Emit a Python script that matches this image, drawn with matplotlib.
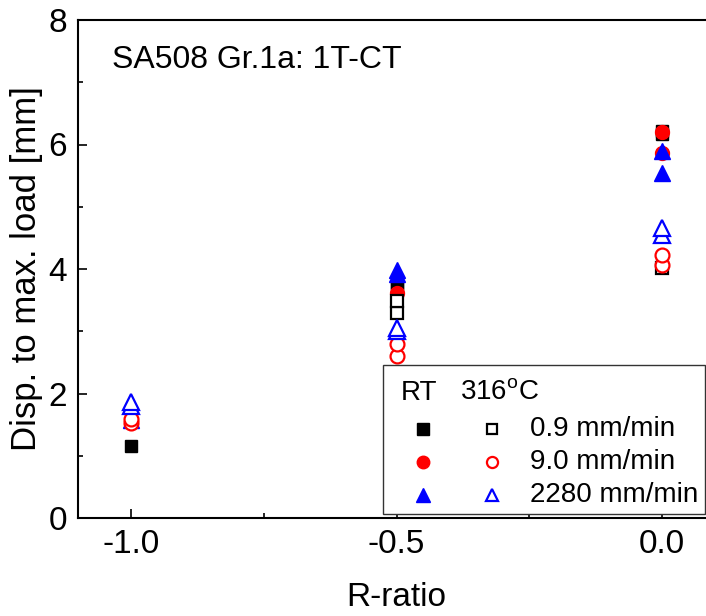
import matplotlib
matplotlib.use('Agg')
import matplotlib.pyplot as plt
from matplotlib.ticker import MultipleLocator
from matplotlib.patches import Rectangle

plt.rcParams['font.family'] = ['Liberation Sans', 'DejaVu Sans']
plt.rcParams['mathtext.fontset'] = 'custom'
plt.rcParams['mathtext.rm'] = 'Liberation Sans'

# R-ratio and displacement to max. load [mm]
rt_09_x = [-1.0, -0.5, -0.5, 0.0, 0.0]
rt_09_y = [1.16, 3.72, 3.78, 6.17, 6.22]
rt_90_x = [-1.0, -0.5, 0.0, 0.0]
rt_90_y = [1.56, 3.61, 5.87, 6.20]
rt_2280_x = [-1.0, -0.5, -0.5, 0.0, 0.0]
rt_2280_y = [1.57, 3.92, 3.98, 5.54, 5.90]

ht_09_x = [-0.5, -0.5, 0.0]
ht_09_y = [3.29, 3.49, 4.02]
ht_90_x = [-1.0, -1.0, -0.5, -0.5, 0.0, 0.0]
ht_90_y = [1.53, 1.59, 2.60, 2.80, 4.06, 4.23]
ht_2280_x = [-1.0, -1.0, -0.5, -0.5, 0.0, 0.0]
ht_2280_y = [1.80, 1.86, 3.00, 3.05, 4.55, 4.66]

rates = ['0.9 mm/min', '9.0 mm/min', '2280 mm/min']
colors = ['black', 'red', 'blue']
markers = ['s', 'o', '^']
sizes = [9, 10, 11]

fig = plt.figure(figsize=(7.06, 6.16), dpi=100)
ax = fig.add_axes([78/706, 98/616, 637/706, 498/616])

filled = [(rt_09_x, rt_09_y), (rt_90_x, rt_90_y), (rt_2280_x, rt_2280_y)]
hollow = [(ht_09_x, ht_09_y), (ht_90_x, ht_90_y), (ht_2280_x, ht_2280_y)]

for (x, y), c, m, s in zip(filled, colors, markers, sizes):
    ax.plot(x, y, ls='none', marker=m, ms=s, color=c, mec=c, zorder=3)
for (x, y), c, m, s in zip(hollow, colors, markers, sizes):
    ax.plot(x, y, ls='none', marker=m, ms=s, mfc='white', mec=c, mew=1.6, zorder=4)

ax.set_xlim(-1.1, 0.1)
ax.set_ylim(0, 8)
ax.set_xticks([-1.0, -0.5, 0.0])
ax.set_xticklabels(['-1.0', '-0.5', '0.0'])
ax.set_yticks([0, 2, 4, 6, 8])
ax.xaxis.set_minor_locator(MultipleLocator(0.25))
ax.yaxis.set_minor_locator(MultipleLocator(1))
ax.tick_params(which='both', direction='in', top=False, right=False, width=1.2)
ax.tick_params(which='major', length=6.5, labelsize=24, pad=8)
ax.tick_params(which='minor', length=3.8)
for sp in ax.spines.values():
    sp.set_linewidth(1.5)

ax.set_xlabel('R-ratio', fontsize=24, labelpad=16)
ax.set_ylabel('Disp. to max. load [mm]', fontsize=25, labelpad=4)

ax.text(0.053, 0.92, 'SA508 Gr.1a: 1T-CT', transform=ax.transAxes,
        fontsize=23, va='center', ha='left')

# legend box drawn by hand: filled = RT, open = 316 C
ax.add_patch(Rectangle((0.479, 0.008), 0.505, 0.299, transform=ax.transAxes,
                       facecolor='white', edgecolor='#333333', lw=1.0, zorder=5))
ax.text(0.507, 0.251, 'RT', transform=ax.transAxes, fontsize=20,
        va='center', ha='left', zorder=6)
ax.text(0.600, 0.251, '316$^{\\rm o}$C', transform=ax.transAxes, fontsize=20,
        va='center', ha='left', zorder=6)
row_y = [0.179, 0.112, 0.046]
for ry, lab, c, m, s in zip(row_y, rates, colors, markers, sizes):
    ax.plot([0.542], [ry], transform=ax.transAxes, ls='none', marker=m,
            ms=s - 1, color=c, clip_on=False, zorder=6)
    ax.plot([0.650], [ry], transform=ax.transAxes, ls='none', marker=m,
            ms=s - 2, mfc='white', mec=c, mew=1.6, clip_on=False, zorder=6)
    ax.text(0.710, ry, lab, transform=ax.transAxes, fontsize=20,
            va='center', ha='left', zorder=6)

fig.savefig('out.png', dpi=100)
